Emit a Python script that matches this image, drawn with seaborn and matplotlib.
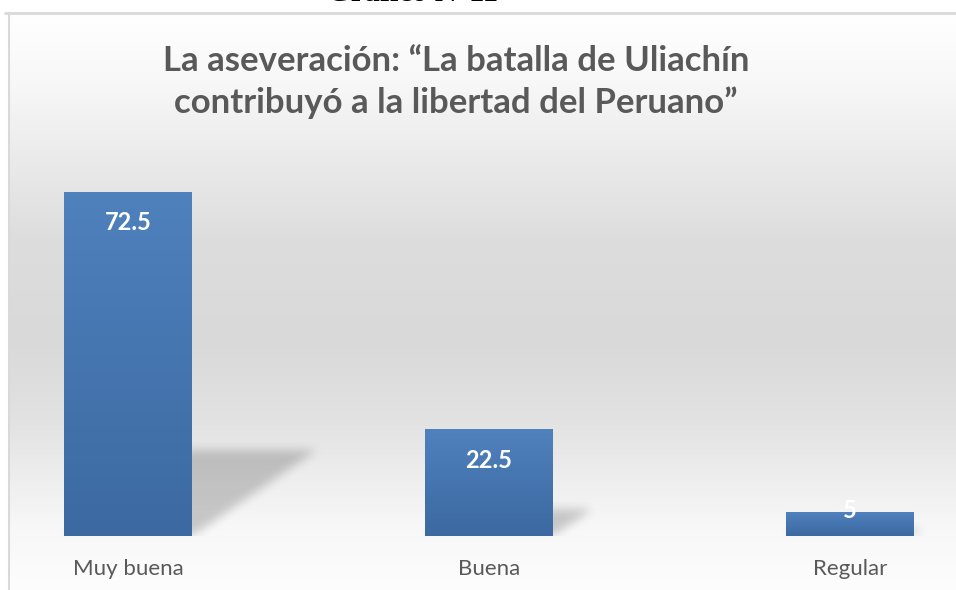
import numpy as np
import matplotlib
matplotlib.use("Agg")
import matplotlib.pyplot as plt
import seaborn as sns
import pandas as pd
from matplotlib.colors import LinearSegmentedColormap
from matplotlib.lines import Line2D

# ---------------- data ----------------
categories = ["Muy buena", "Buena", "Regular"]
values = [72.5, 22.5, 5]
value_labels = ["72.5", "22.5", "5"]
title_text = "La aseveración: “La batalla de Uliachín\ncontribuyó a la libertad del Peruano”"
caption_text = "Gráfico N°11"

# ---------------- figure ----------------
W, H, DPI = 956, 590, 100
sns.set_theme(style="white")
plt.rcParams['font.family'] = ['Lato', 'DejaVu Sans']

fig = plt.figure(figsize=(W / DPI, H / DPI), dpi=DPI)
fig.patch.set_facecolor('white')


def fx(px):
    return px / W


def fy(py):
    return 1 - py / H


# chart-area background (vertical gradient)
bg = fig.add_axes([fx(9), 0, 1 - fx(9), fy(13)])
rows = np.arange(13, 590)
stop_y = [13, 80, 150, 240, 340, 420, 480, 530, 590]
stop_v = [0xff, 0xf8, 0xec, 0xdd, 0xd9, 0xe2, 0xee, 0xf8, 0xfd]
col = np.interp(rows, stop_y, stop_v) / 255.0
grad = np.dstack([col, col, col]).reshape(-1, 1, 3)
bg.imshow(grad, aspect='auto', extent=[0, 1, 0, 1], origin='upper', interpolation='bilinear')
bg.set_axis_off()

# chart border
fig.add_artist(Line2D([fx(5), 1], [fy(12.5), fy(12.5)], color='#d9d9d9', lw=2))
fig.add_artist(Line2D([fx(8.5), fx(8.5)], [fy(12.5), 0], color='#d9d9d9', lw=1.5))

# main axes
ax = fig.add_axes([0, fy(536), 1, fy(13) - fy(536)])
ax.patch.set_alpha(0)

df = pd.DataFrame({"categoria": categories, "valor": values})
sns.barplot(data=df, x="categoria", y="valor", ax=ax, color="#4a7ab5",
            width=128 / 361, saturation=1, zorder=3, linewidth=0, edgecolor='none')

xlim = (-128 / 361, (956 - 128) / 361)
ylim = (0, (536 - 13) / 4.745)

# bar gradients
bar_cmap = LinearSegmentedColormap.from_list("bar", ["#4f81bd", "#3c69a1"])
for p in ax.patches:
    x0, w, h = p.get_x(), p.get_width(), p.get_height()
    im = ax.imshow(np.linspace(0, 1, 100).reshape(-1, 1), cmap=bar_cmap,
                   extent=[x0, x0 + w, 0, h], aspect='auto', origin='upper',
                   zorder=3.5, interpolation='bilinear')
    im.set_clip_path(p)

ax.set_xlim(*xlim)
ax.set_ylim(*ylim)

# soft perspective shadows
ppx = 361.0
ppy = 4.745
nx, ny = 956, 523
gx = xlim[0] + (np.arange(nx) + 0.5) / nx * (xlim[1] - xlim[0])
gy = ylim[1] - (np.arange(ny) + 0.5) / ny * (ylim[1] - ylim[0])
GX, GY = np.meshgrid(gx, gy)
mask = np.zeros((ny, nx))
for p in ax.patches[:len(values)]:
    x0, w, h = p.get_x(), p.get_width(), p.get_height()
    hs = 0.25 * h
    shear = 1.45 * hs * ppy / ppx
    t = GY / hs
    inside = (GY >= 0) & (GY <= hs) & (GX >= x0 + shear * t) & (GX <= x0 + w + shear * t)
    mask = np.maximum(mask, inside.astype(float))


def box_blur(a, r):
    k = np.ones(2 * r + 1) / (2 * r + 1)
    a = np.apply_along_axis(lambda m: np.convolve(m, k, mode='same'), 0, a)
    a = np.apply_along_axis(lambda m: np.convolve(m, k, mode='same'), 1, a)
    return a


mask = box_blur(box_blur(mask, 5), 5)
shadow = np.zeros((ny, nx, 4))
shadow[..., 3] = 0.19 * mask
ax.imshow(shadow, extent=[xlim[0], xlim[1], ylim[0], ylim[1]], aspect='auto',
          origin='upper', zorder=2, interpolation='bilinear')
ax.set_xlim(*xlim)
ax.set_ylim(*ylim)

# value labels
for p, lab in zip(ax.patches[:len(values)], value_labels):
    h = p.get_height()
    off_px = min(31.0, h * ppy - 25.0)
    ax.annotate(lab, xy=(p.get_x() + p.get_width() / 2, h),
                xytext=(0, -off_px * 72 / DPI), textcoords='offset points',
                ha='center', va='center', color='white', fontweight='bold',
                fontsize=17, zorder=5)

# axes styling
ax.set_yticks([])
ax.set_xlabel("")
ax.set_ylabel("")
for s in ax.spines.values():
    s.set_visible(False)
ax.tick_params(axis='x', length=0, pad=16.5, labelsize=16, labelcolor='#595959')

# title and caption
fig.text(fx(456), fy(113), title_text, ha='center', va='baseline',
         fontsize=25, fontweight='bold', color='#595959', linespacing=1.34)
fig.text(fx(413), fy(1), caption_text, ha='center', va='baseline',
         fontsize=22, fontweight='bold', color='black',
         family=['Liberation Serif', 'DejaVu Serif'])

fig.savefig("out.png", dpi=DPI)
